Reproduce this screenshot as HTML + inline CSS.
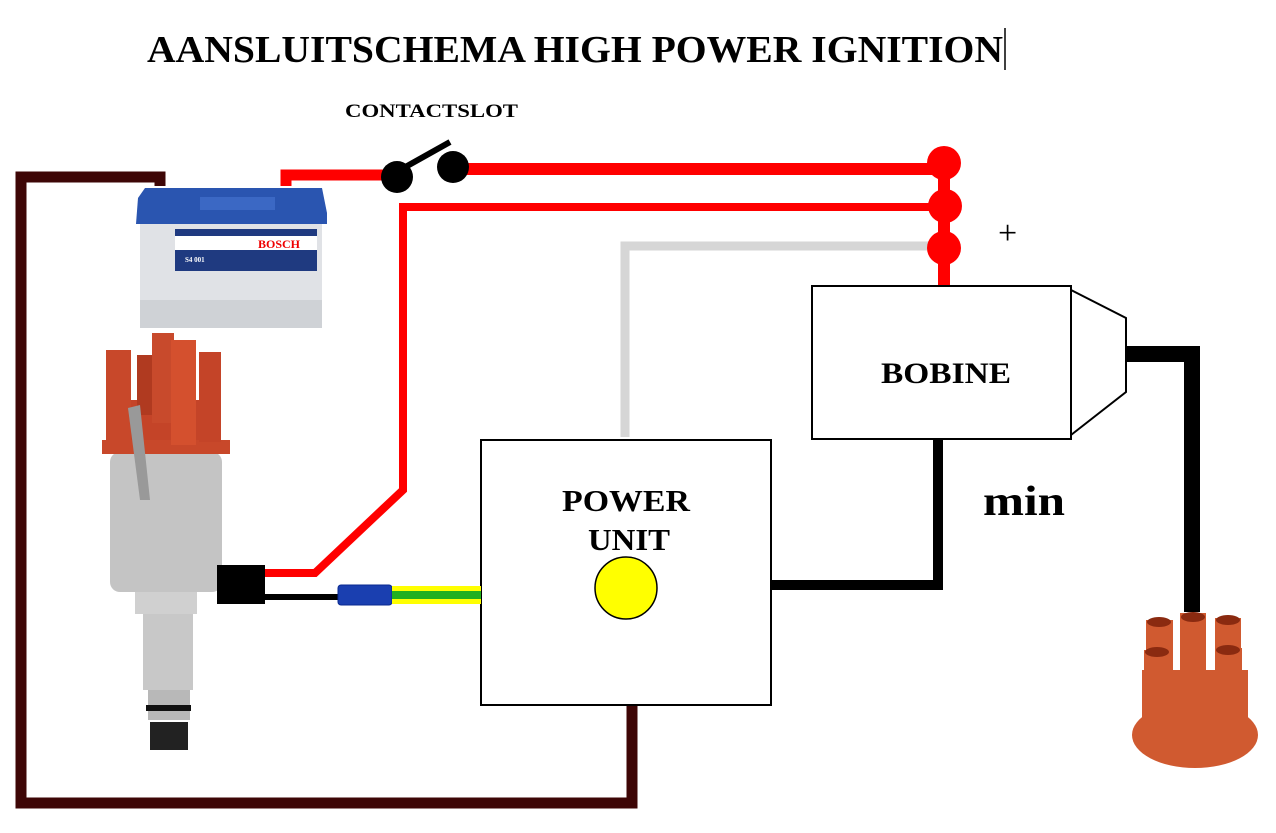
<!DOCTYPE html>
<html><head><meta charset="utf-8"><style>
html,body{margin:0;padding:0;background:#fff;}
svg{display:block;}
text{font-family:"Liberation Serif",serif;font-weight:bold;}
</style></head><body>
<svg width="1276" height="833" viewBox="0 0 1276 833" xmlns="http://www.w3.org/2000/svg">
<rect width="1276" height="833" fill="#fff"/>
<text x="147" y="62" font-size="38" textLength="856" lengthAdjust="spacingAndGlyphs">AANSLUITSCHEMA HIGH POWER IGNITION</text>
<line x1="1005" y1="28" x2="1005" y2="70" stroke="#000" stroke-width="1.5"/>
<text x="345" y="117" font-size="19" textLength="173" lengthAdjust="spacingAndGlyphs">CONTACTSLOT</text>

<!-- dark brown ground wire -->
<polyline points="160,186 160,177 21,177 21,803 632,803 632,706" fill="none" stroke="#3e0606" stroke-width="11"/>

<!-- red wires -->
<polyline points="286,186 286,175 390,175" fill="none" stroke="#f00" stroke-width="11"/>
<line x1="465" y1="169" x2="944" y2="169" stroke="#f00" stroke-width="12"/>
<polyline points="265,573 315,573 403,490 403,207 944,207" fill="none" stroke="#f00" stroke-width="8"/>
<line x1="944" y1="163" x2="944" y2="288" stroke="#f00" stroke-width="12"/>
<!-- gray wire -->
<polyline points="625,437 625,246 930,246" fill="none" stroke="#d6d6d6" stroke-width="9"/>
<circle cx="944" cy="163" r="17" fill="#f00"/>
<circle cx="945" cy="206" r="17" fill="#f00"/>
<circle cx="944" cy="248" r="17" fill="#f00"/>
<!-- switch -->
<circle cx="397" cy="177" r="16" fill="#000"/>
<circle cx="453" cy="167" r="16" fill="#000"/>
<line x1="400" y1="170" x2="450" y2="142" stroke="#000" stroke-width="6"/>

<text x="998" y="244" font-size="34" style="font-weight:normal">+</text>

<!-- bobine -->
<rect x="812" y="286" width="259" height="153" fill="#fff" stroke="#000" stroke-width="2"/>
<polyline points="1071,290 1126,318 1126,392 1071,435" fill="none" stroke="#000" stroke-width="2"/>
<text x="881" y="383" font-size="30" textLength="130" lengthAdjust="spacingAndGlyphs">BOBINE</text>
<polyline points="1127,354 1192,354 1192,612" fill="none" stroke="#000" stroke-width="16"/>

<!-- min wire -->
<polyline points="938,439 938,585 771,585" fill="none" stroke="#000" stroke-width="10"/>
<text x="983" y="515" font-size="42" textLength="82" lengthAdjust="spacingAndGlyphs">min</text>

<!-- power unit -->
<rect x="481" y="440" width="290" height="265" fill="#fff" stroke="#000" stroke-width="2"/>
<text x="562" y="511" font-size="31" textLength="128" lengthAdjust="spacingAndGlyphs">POWER</text>
<text x="588" y="550" font-size="31" textLength="82" lengthAdjust="spacingAndGlyphs">UNIT</text>
<circle cx="626" cy="588" r="31" fill="#ff0" stroke="#000" stroke-width="1.5"/>

<!-- signal wire -->
<line x1="265" y1="597" x2="340" y2="597" stroke="#000" stroke-width="6"/>
<rect x="338" y="585" width="54" height="20" rx="3" fill="#1a3fb0" stroke="#0a2a90" stroke-width="1"/>
<rect x="392" y="586" width="89" height="18" fill="#ff0"/>
<rect x="392" y="591" width="89" height="8" fill="#22b020"/>

<!-- battery -->
<g>
<rect x="140" y="200" width="182" height="128" fill="#e0e2e6"/>
<rect x="140" y="300" width="182" height="28" fill="#cfd2d6"/>
<path d="M138,198 L145,188 L322,188 L327,213 L327,224 L136,224 Z" fill="#2a55b0"/>
<rect x="200" y="197" width="75" height="13" fill="#3b68c4"/>
<rect x="175" y="229" width="142" height="42" fill="#1f3a80"/>
<rect x="175" y="236" width="142" height="14" fill="#fff"/>
<text x="258" y="248" font-size="12" fill="#e00" font-family="Liberation Sans,sans-serif">BOSCH</text>
<text x="185" y="262" font-size="7" fill="#fff" font-family="Liberation Sans,sans-serif">S4 001</text>
</g>

<!-- distributor -->
<g>
<rect x="143" y="610" width="50" height="80" fill="#c8c8c8"/>
<rect x="148" y="690" width="42" height="30" fill="#b8b8b8"/>
<rect x="146" y="705" width="45" height="6" fill="#111"/>
<rect x="150" y="722" width="38" height="28" fill="#222"/>
<rect x="110" y="452" width="112" height="140" rx="10" fill="#c4c4c4"/>
<rect x="135" y="592" width="62" height="22" fill="#d0d0d0"/>
<rect x="102" y="440" width="128" height="14" fill="#c8482a"/>
<path d="M118,440 L120,400 L212,400 L220,440 Z" fill="#c44428"/>
<rect x="106" y="350" width="25" height="95" fill="#c8482a"/>
<rect x="137" y="355" width="16" height="60" fill="#b03a20"/>
<rect x="152" y="333" width="22" height="90" fill="#c84a2c"/>
<rect x="171" y="340" width="25" height="105" fill="#d4502e"/>
<rect x="199" y="352" width="22" height="90" fill="#c44428"/>
<path d="M128,408 L140,405 L150,500 L140,500 Z" fill="#999"/>
<rect x="217" y="565" width="48" height="39" fill="#000"/>
</g>

<!-- rotor cap -->
<g fill="#d05a30">
<ellipse cx="1195" cy="735" rx="63" ry="33"/>
<rect x="1142" y="670" width="106" height="65"/>
<rect x="1146" y="620" width="27" height="75"/>
<rect x="1180" y="613" width="26" height="75"/>
<rect x="1215" y="618" width="26" height="75"/>
<rect x="1144" y="650" width="27" height="60"/>
<rect x="1215" y="648" width="27" height="60"/>
<ellipse cx="1159" cy="622" rx="12" ry="5" fill="#8a2a10"/>
<ellipse cx="1193" cy="617" rx="12" ry="5" fill="#8a2a10"/>
<ellipse cx="1228" cy="620" rx="12" ry="5" fill="#8a2a10"/>
<ellipse cx="1157" cy="652" rx="12" ry="5" fill="#8a2a10"/>
<ellipse cx="1228" cy="650" rx="12" ry="5" fill="#8a2a10"/>
</g>
</svg>
</body></html>
